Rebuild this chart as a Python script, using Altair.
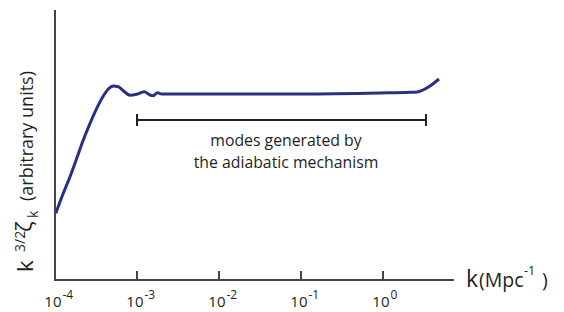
import altair as alt
import pandas as pd

# ---- data ----
log_k = [-3.991, -3.899, -3.817, -3.735, -3.655, -3.573, -3.491, -3.411, -3.350,
         -3.289, -3.228, -3.167, -3.085, -3.004, -2.911, -2.841, -2.801, -2.752,
         -2.699, -2.476, -1.012, -0.037, 0.329, 0.415, 0.488, 0.573, 0.683]
amplitude = [66.7, 86.7, 103.3, 121.7, 140, 156.7, 171.7, 184, 191,
             194, 193.3, 189.3, 184.7, 185.7, 188.3, 185, 184.3, 187.3,
             186, 186, 186, 187, 187.7, 188, 190, 194, 201]

tick_k = [1e-4, 1e-3, 1e-2, 1e-1, 1e0]
tick_exp = ["-4", "-3", "-2", "-1", "0"]

bracket_k = [1e-3, 10 ** 0.524]
bracket_level = 160

annot_lines = ["modes generated by", "the adiabatic mechanism"]

# ---- tables ----
curve = pd.DataFrame({"k": [10 ** v for v in log_k], "amp": amplitude})
ticks = pd.DataFrame({"k": tick_k, "exp": tick_exp, "base": ["10"] * len(tick_k)})
bracket = pd.DataFrame({"ka": [bracket_k[0]], "kb": [bracket_k[1]], "lvl": [bracket_level]})
caps = pd.DataFrame({"k": bracket_k, "lo": [bracket_level - 6] * 2, "hi": [bracket_level + 6] * 2})

XS = alt.Scale(type="log", domain=[1e-4, 10 ** 0.866])
YS = alt.Scale(domain=[0, 270])
FONT = "Open Sans"
INK = "#231f20"
AX = "#454545"


def one(text, i):
    return pd.DataFrame({"t": [text], "i": [i]})


line = alt.Chart(curve).mark_line(color="#2b2f82", strokeWidth=3, interpolate="monotone").encode(
    x=alt.X("k:Q", scale=XS, axis=None),
    y=alt.Y("amp:Q", scale=YS, axis=None),
)

y_axis = alt.Chart(one("", 1)).mark_rule(color=AX, strokeWidth=2).encode(
    x=alt.value(0), y=alt.value(0), y2=alt.value(271)
)
x_axis = alt.Chart(one("", 2)).mark_rule(color=AX, strokeWidth=2).encode(
    x=alt.value(-1), x2=alt.value(399), y=alt.value(270)
)
tick_marks = alt.Chart(ticks).mark_rule(color=AX, strokeWidth=2).encode(
    x=alt.X("k:Q", scale=XS, axis=None), y=alt.value(261), y2=alt.value(270)
)
tick_base = alt.Chart(ticks).mark_text(font=FONT, fontSize=15, align="right", baseline="alphabetic",
                                       dx=6.5, color=INK).encode(
    x=alt.X("k:Q", scale=XS, axis=None), y=alt.value(297.3), text="base:N"
)
tick_sup = alt.Chart(ticks).mark_text(font=FONT, fontSize=12, align="left", baseline="alphabetic",
                                      dx=7.5, color=INK).encode(
    x=alt.X("k:Q", scale=XS, axis=None), y=alt.value(289), text="exp:N"
)

br = alt.Chart(bracket).mark_rule(color=INK, strokeWidth=2).encode(
    x=alt.X("ka:Q", scale=XS, axis=None), x2="kb:Q", y=alt.Y("lvl:Q", scale=YS, axis=None)
)
br_caps = alt.Chart(caps).mark_rule(color=INK, strokeWidth=2).encode(
    x=alt.X("k:Q", scale=XS, axis=None), y=alt.Y("lo:Q", scale=YS, axis=None), y2="hi:Q"
)


def hor(text, size, x, y, i, align="left"):
    return alt.Chart(one(text, i)).mark_text(font=FONT, fontSize=size, align=align,
                                             baseline="alphabetic", color=INK).encode(
        x=alt.value(x), y=alt.value(y), text="t:N")


def rot(text, size, x, y, i):
    return alt.Chart(one(text, i)).mark_text(font=FONT, fontSize=size, angle=270, align="left",
                                             baseline="alphabetic", color=INK).encode(
        x=alt.value(x), y=alt.value(y), text="t:N")


ann = [
    hor(annot_lines[0], 15.8, 231, 136.2, 3, "center"),
    hor(annot_lines[1], 15.8, 231, 157.8, 4, "center"),
]
ytitle = [
    rot("k", 22, -22, 262, 5),
    rot("3/2", 14, -30, 242, 6),
    rot("ζ", 22, -23, 222, 7),
    rot("k", 14, -17, 208, 8),
    rot("(arbitrary units)", 18, -22, 191, 9),
]
xtitle = [
    hor("k", 23, 411, 277, 10),
    hor("(Mpc", 19.5, 424, 277, 11),
    hor("-1", 12.5, 469, 265, 12),
    hor(")", 19.5, 487, 277, 13),
]

chart = alt.layer(
    line, y_axis, x_axis, tick_marks, tick_base, tick_sup, br, br_caps,
    *ann, *ytitle, *xtitle
).properties(
    width=399, height=270,
    padding={"left": 47, "top": 2, "right": 102, "bottom": 32},
    autosize=alt.AutoSizeParams(type="none"),
).configure_view(stroke=None)

chart.save("out.html", embed_options={"renderer": "svg", "actions": False})
